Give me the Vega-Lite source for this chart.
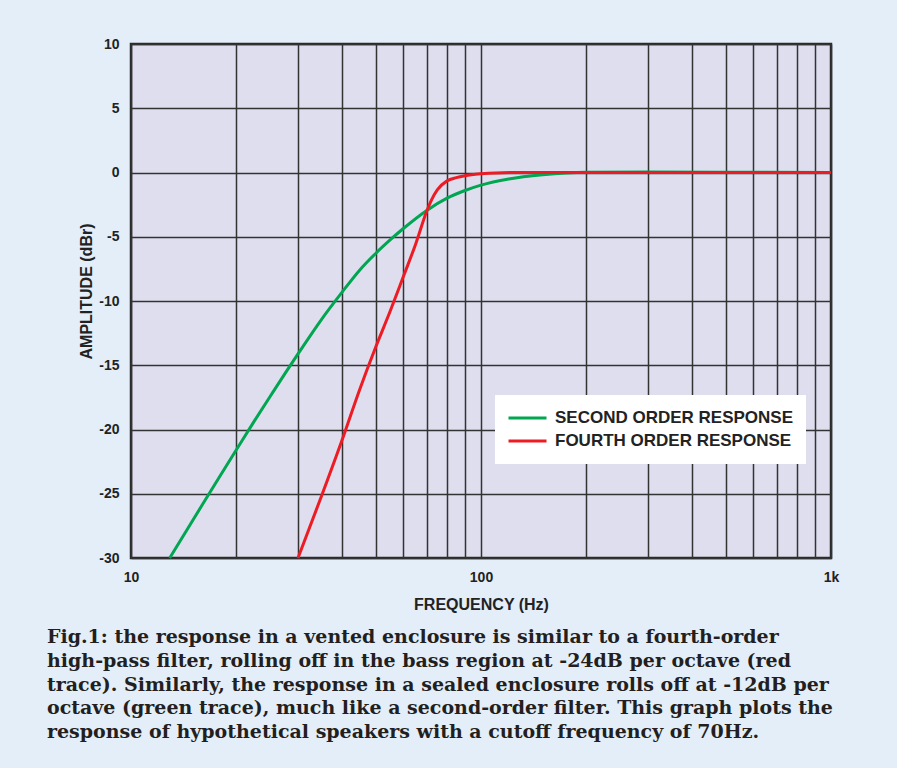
{
  "$schema": "https://vega.github.io/schema/vega-lite/v6.json",
  "width": 700,
  "height": 514,
  "autosize": {"type": "none"},
  "padding": {"left": 131, "top": 44, "right": 66, "bottom": 210},
  "background": "#e3eef9",
  "config": {
    "font": "Liberation Sans",
    "view": {"fill": "#dfdeef", "stroke": "#2a2a2a", "strokeWidth": 2.5}
  },
  "title": {
    "text": [
      "Fig.1: the response in a vented enclosure is similar to a fourth-order",
      "high-pass filter, rolling off in the bass region at -24dB per octave (red",
      "trace). Similarly, the response in a sealed enclosure rolls off at -12dB per",
      "octave (green trace), much like a second-order filter. This graph plots the",
      "response of hypothetical speakers with a cutoff frequency of 70Hz."
    ],
    "orient": "bottom",
    "anchor": "start",
    "frame": "group",
    "dx": -84,
    "offset": 16,
    "font": "DejaVu Serif",
    "fontSize": 19,
    "fontWeight": "bold",
    "color": "#231f20",
    "lineHeight": 23.75,
    "baseline": "top",
    "align": "left"
  },
  "data": {
    "values": [
      {"series": "SECOND ORDER RESPONSE", "frequency": 12.9, "amplitude": -30},
      {"series": "SECOND ORDER RESPONSE", "frequency": 14.5, "amplitude": -27.74},
      {"series": "SECOND ORDER RESPONSE", "frequency": 16, "amplitude": -25.84},
      {"series": "SECOND ORDER RESPONSE", "frequency": 18, "amplitude": -23.58},
      {"series": "SECOND ORDER RESPONSE", "frequency": 20, "amplitude": -21.58},
      {"series": "SECOND ORDER RESPONSE", "frequency": 22.5, "amplitude": -19.35},
      {"series": "SECOND ORDER RESPONSE", "frequency": 25, "amplitude": -17.41},
      {"series": "SECOND ORDER RESPONSE", "frequency": 27.5, "amplitude": -15.67},
      {"series": "SECOND ORDER RESPONSE", "frequency": 30, "amplitude": -14.12},
      {"series": "SECOND ORDER RESPONSE", "frequency": 35, "amplitude": -11.44},
      {"series": "SECOND ORDER RESPONSE", "frequency": 40, "amplitude": -9.35},
      {"series": "SECOND ORDER RESPONSE", "frequency": 45, "amplitude": -7.6},
      {"series": "SECOND ORDER RESPONSE", "frequency": 50, "amplitude": -6.3},
      {"series": "SECOND ORDER RESPONSE", "frequency": 55, "amplitude": -5.25},
      {"series": "SECOND ORDER RESPONSE", "frequency": 60, "amplitude": -4.36},
      {"series": "SECOND ORDER RESPONSE", "frequency": 70, "amplitude": -2.95},
      {"series": "SECOND ORDER RESPONSE", "frequency": 80, "amplitude": -2.0},
      {"series": "SECOND ORDER RESPONSE", "frequency": 90, "amplitude": -1.4},
      {"series": "SECOND ORDER RESPONSE", "frequency": 100, "amplitude": -0.98},
      {"series": "SECOND ORDER RESPONSE", "frequency": 120, "amplitude": -0.5},
      {"series": "SECOND ORDER RESPONSE", "frequency": 150, "amplitude": -0.17},
      {"series": "SECOND ORDER RESPONSE", "frequency": 200, "amplitude": 0.02},
      {"series": "SECOND ORDER RESPONSE", "frequency": 300, "amplitude": 0.03},
      {"series": "SECOND ORDER RESPONSE", "frequency": 1000, "amplitude": 0},
      {"series": "FOURTH ORDER RESPONSE", "frequency": 30, "amplitude": -30},
      {"series": "FOURTH ORDER RESPONSE", "frequency": 35, "amplitude": -25.2},
      {"series": "FOURTH ORDER RESPONSE", "frequency": 40, "amplitude": -20.9},
      {"series": "FOURTH ORDER RESPONSE", "frequency": 45, "amplitude": -16.9},
      {"series": "FOURTH ORDER RESPONSE", "frequency": 50, "amplitude": -13.6},
      {"series": "FOURTH ORDER RESPONSE", "frequency": 55, "amplitude": -10.8},
      {"series": "FOURTH ORDER RESPONSE", "frequency": 60, "amplitude": -8.1},
      {"series": "FOURTH ORDER RESPONSE", "frequency": 65, "amplitude": -5.6},
      {"series": "FOURTH ORDER RESPONSE", "frequency": 70, "amplitude": -3.0},
      {"series": "FOURTH ORDER RESPONSE", "frequency": 72, "amplitude": -2.2},
      {"series": "FOURTH ORDER RESPONSE", "frequency": 75, "amplitude": -1.35},
      {"series": "FOURTH ORDER RESPONSE", "frequency": 80, "amplitude": -0.65},
      {"series": "FOURTH ORDER RESPONSE", "frequency": 85, "amplitude": -0.4},
      {"series": "FOURTH ORDER RESPONSE", "frequency": 90, "amplitude": -0.25},
      {"series": "FOURTH ORDER RESPONSE", "frequency": 100, "amplitude": -0.1},
      {"series": "FOURTH ORDER RESPONSE", "frequency": 110, "amplitude": -0.03},
      {"series": "FOURTH ORDER RESPONSE", "frequency": 130, "amplitude": 0},
      {"series": "FOURTH ORDER RESPONSE", "frequency": 200, "amplitude": 0},
      {"series": "FOURTH ORDER RESPONSE", "frequency": 1000, "amplitude": 0}
    ]
  },
  "mark": {"type": "line", "strokeWidth": 3, "interpolate": "monotone"},
  "encoding": {
    "x": {
      "field": "frequency",
      "type": "quantitative",
      "scale": {"type": "log", "domain": [10, 1000], "nice": false},
      "axis": {
        "values": [10, 20, 30, 40, 50, 60, 70, 80, 90, 100, 200, 300, 400, 500, 600, 700, 800, 900, 1000],
        "labelExpr": "datum.value == 10 ? '10' : datum.value == 100 ? '100' : datum.value == 1000 ? '1k' : ''",
        "ticks": false,
        "domain": false,
        "grid": true,
        "gridColor": "#333333",
        "gridWidth": 1.5,
        "gridOpacity": 1,
        "labelFontSize": 14,
        "labelFontWeight": "bold",
        "labelColor": "#222222",
        "labelPadding": 12,
        "labelFlush": false,
        "labelOverlap": false,
        "title": "FREQUENCY (Hz)",
        "titleFontSize": 16,
        "titleFontWeight": "bold",
        "titleColor": "#222222",
        "titlePadding": 12
      }
    },
    "y": {
      "field": "amplitude",
      "type": "quantitative",
      "scale": {"domain": [-30, 10], "nice": false},
      "axis": {
        "values": [-30, -25, -20, -15, -10, -5, 0, 5, 10],
        "labelExpr": "'' + datum.value",
        "ticks": false,
        "domain": false,
        "grid": true,
        "gridColor": "#333333",
        "gridWidth": 1.5,
        "gridOpacity": 1,
        "labelFontSize": 14,
        "labelFontWeight": "bold",
        "labelColor": "#222222",
        "labelPadding": 12,
        "labelFlush": false,
        "labelOverlap": false,
        "title": "AMPLITUDE (dBr)",
        "titleFontSize": 16,
        "titleFontWeight": "bold",
        "titleColor": "#222222",
        "titlePadding": 4,
        "titleY": 247
      }
    },
    "color": {
      "field": "series",
      "type": "nominal",
      "sort": ["SECOND ORDER RESPONSE", "FOURTH ORDER RESPONSE"],
      "scale": {"domain": ["SECOND ORDER RESPONSE", "FOURTH ORDER RESPONSE"], "range": ["#00a651", "#ed1c24"]},
      "legend": {
        "orient": "none",
        "legendX": 364,
        "legendY": 351,
        "title": null,
        "fillColor": "white",
        "padding": 12,
        "symbolType": "stroke",
        "symbolSize": 1444,
        "symbolStrokeWidth": 3,
        "labelFontSize": 17,
        "labelFontWeight": "bold",
        "labelColor": "#222222",
        "labelOffset": 7,
        "labelLimit": 0,
        "clipHeight": 22,
        "rowPadding": 1
      }
    }
  }
}
